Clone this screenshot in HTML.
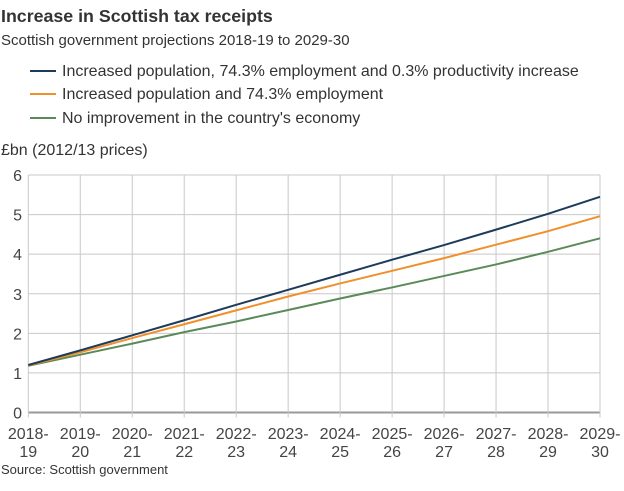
<!DOCTYPE html>
<html><head><meta charset="utf-8"><style>
body{margin:0;background:#fff;font-family:"Liberation Sans",Arial,sans-serif;color:#333}
</style></head><body>
<svg width="624" height="486" xmlns="http://www.w3.org/2000/svg" font-family="Liberation Sans, Arial, sans-serif">
<rect width="624" height="486" fill="#fff"/>
<text x="1" y="22" font-size="17.8" font-weight="bold" fill="#333">Increase in Scottish tax receipts</text>
<text x="1" y="45" font-size="15" fill="#333">Scottish government projections 2018-19 to 2029-30</text>
<g>
<g><line x1="30" y1="71" x2="56" y2="71" stroke="#1d3b5a" stroke-width="2"/><text x="62" y="76" font-size="16" fill="#333">Increased population, 74.3% employment and 0.3% productivity increase</text></g>
<g><line x1="30" y1="94" x2="56" y2="94" stroke="#f0902a" stroke-width="2"/><text x="62" y="99" font-size="16" fill="#333">Increased population and 74.3% employment</text></g>
<g><line x1="30" y1="118" x2="56" y2="118" stroke="#5a8a5a" stroke-width="2"/><text x="62" y="123" font-size="16" fill="#333">No improvement in the country's economy</text></g>
</g>
<text x="1" y="155" font-size="16" fill="#333">£bn (2012/13 prices)</text>
<g id="grid"></g><g id="series"></g><g id="labels"></g>
<text x="1" y="474" font-size="13" fill="#333">Source: Scottish government</text>
</svg>
<script>
const categories=["2018-19","2019-20","2020-21","2021-22","2022-23","2023-24","2024-25","2025-26","2026-27","2027-28","2028-29","2029-30"];
const yTicks=[0,1,2,3,4,5,6];
const blueValues=[1.2,1.57,1.95,2.33,2.72,3.1,3.48,3.86,4.23,4.62,5.02,5.45];
const orangeValues=[1.19,1.52,1.88,2.23,2.58,2.93,3.26,3.58,3.9,4.24,4.58,4.96];
const greenValues=[1.18,1.46,1.74,2.03,2.3,2.59,2.88,3.16,3.45,3.74,4.06,4.4];
const NS="http://www.w3.org/2000/svg";
const x0=28.3,x1=600,y0=412.5,y6=175;
const xs=i=>x0+(x1-x0)*i/(categories.length-1);
const ys=v=>y0+(y6-y0)*v/6;
function mk(t,a,p){const e=document.createElementNS(NS,t);for(const k in a)e.setAttribute(k,a[k]);p.appendChild(e);return e;}
const grid=document.getElementById('grid'),labels=document.getElementById('labels'),series=document.getElementById('series');
yTicks.forEach(t=>{
 const l=mk('line',{x1:x0,x2:x1,y1:ys(t),y2:ys(t),stroke:t===0?'#999':'#c8c8c8','stroke-width':t===0?2:1},grid);
 
 
 const tx=mk('text',{x:22,y:ys(t)+6,'font-size':16,fill:'#444','text-anchor':'end'},labels);
 tx.textContent=t;
 
 
});
categories.forEach((c,i)=>{
 const l=mk('line',{x1:xs(i),x2:xs(i),y1:y6,y2:y0+5,stroke:'#c8c8c8','stroke-width':1},grid);
 
 
 const p=c.split('-');
 const t1=mk('text',{x:xs(i),y:439,'font-size':16,fill:'#444','text-anchor':'middle'},labels);
 t1.textContent=p[0]+'-';
 
 
 const t2=mk('text',{x:xs(i),y:457,'font-size':16,fill:'#444','text-anchor':'middle'},labels);
 t2.textContent=p[1];
 
 
});
[[greenValues,'#5a8a5a','green-line'],[orangeValues,'#f0902a','orange-line'],[blueValues,'#1d3b5a','blue-line']].forEach(([vals,col,name])=>{
 const pl=mk('polyline',{points:vals.map((v,i)=>xs(i)+','+ys(v)).join(' '),fill:'none',stroke:col,'stroke-width':2},series);
 
 
});
</script>
</body></html>
